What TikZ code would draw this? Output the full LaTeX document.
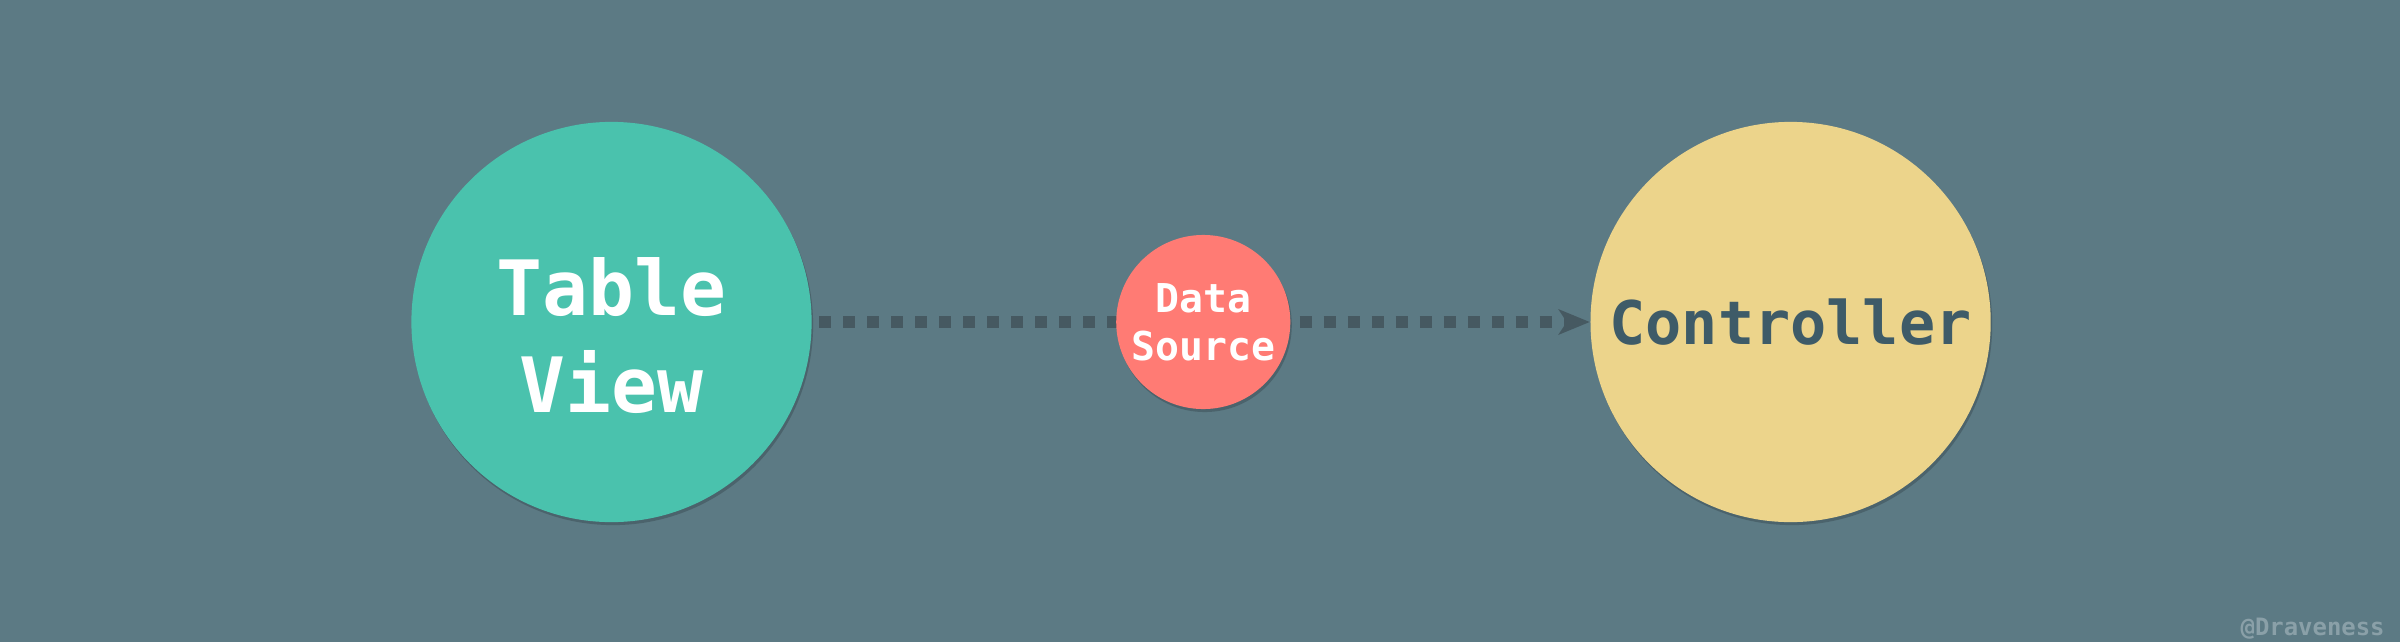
\documentclass[tikz,border=0pt]{standalone}
\usepackage{fontspec}
\setmonofont{DejaVu Sans Mono}
\usepackage{xcolor}
\definecolor{dvbg}{HTML}{5C7A84}
\definecolor{dvteal}{HTML}{4AC2AD}
\definecolor{dvsalmon}{HTML}{FF7B74}
\definecolor{dvsand}{HTML}{ECD48B}
\definecolor{dvslate}{HTML}{465961}
\definecolor{dvink}{HTML}{3E5B68}
\definecolor{dvmark}{HTML}{8AA0A8}
\usetikzlibrary{arrows.meta,positioning,shadows}

\begin{document}
\begin{tikzpicture}[x=0.01cm, y=-0.01cm,
  obj/.style={circle, inner sep=0pt, align=center, text=white,
    drop shadow={shadow xshift=0.015cm, shadow yshift=-0.03cm, opacity=0.18, fill=black}},
  arr/.style={-{Stealth[length=0.31cm, width=0.25cm, inset=0.08cm]}, dvslate,
    line width=0.12cm, dash pattern=on 0.12cm off 0.12cm, shorten <=0.07cm},
  q/.style={font=\ttfamily\bfseries\fontsize{6.8}{8}\selectfont, text=dvmark}]
\fill[dvbg] (0,0) rectangle (2400,642);
\useasboundingbox (0,0) rectangle (2400,642);
\node[obj, minimum size=4cm, fill=dvteal, text height=1.81cm, text depth=0cm,
  font=\ttfamily\bfseries\fontsize{21.7}{27.6}\selectfont] (tv) at (611.5,322) {Table\\View};
\node[obj, minimum size=4cm, fill=dvsand, text=dvink, right=7.77cm of tv,
  font=\ttfamily\bfseries\fontsize{17.1}{20}\selectfont] (ctrl) {Controller};
\draw[arr] (tv) -- (ctrl);
\node[obj, minimum size=1.74cm, fill=dvsalmon, right=3.03cm of tv,
  font=\ttfamily\bfseries\fontsize{11.3}{13.7}\selectfont] (ds) {Data\\Source};
\node[q, anchor=base east] (sig) at (2397,635) {@Draveness};
\end{tikzpicture}
\end{document}
